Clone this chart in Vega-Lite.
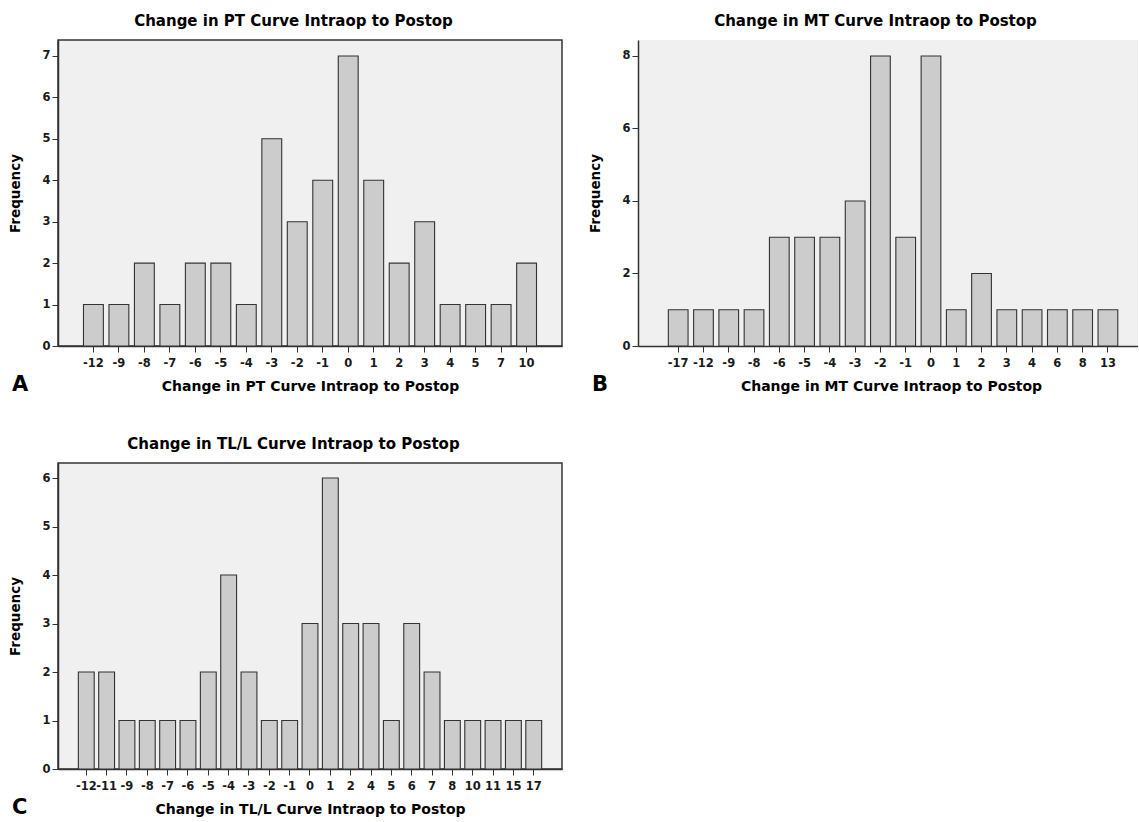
{
  "$schema": "https://vega.github.io/schema/vega-lite/v6.json",
  "padding": {"left": 8, "top": 12, "right": 0, "bottom": 2},
  "background": "white",
  "datasets": {
    "pt": [
      {"change": -12, "n": 1}, {"change": -9, "n": 1}, {"change": -8, "n": 2}, {"change": -7, "n": 1},
      {"change": -6, "n": 2}, {"change": -5, "n": 2}, {"change": -4, "n": 1}, {"change": -3, "n": 5},
      {"change": -2, "n": 3}, {"change": -1, "n": 4}, {"change": 0, "n": 7}, {"change": 1, "n": 4},
      {"change": 2, "n": 2}, {"change": 3, "n": 3}, {"change": 4, "n": 1}, {"change": 5, "n": 1},
      {"change": 7, "n": 1}, {"change": 10, "n": 2}
    ],
    "mt": [
      {"change": -17, "n": 1}, {"change": -12, "n": 1}, {"change": -9, "n": 1}, {"change": -8, "n": 1},
      {"change": -6, "n": 3}, {"change": -5, "n": 3}, {"change": -4, "n": 3}, {"change": -3, "n": 4},
      {"change": -2, "n": 8}, {"change": -1, "n": 3}, {"change": 0, "n": 8}, {"change": 1, "n": 1},
      {"change": 2, "n": 2}, {"change": 3, "n": 1}, {"change": 4, "n": 1}, {"change": 6, "n": 1},
      {"change": 8, "n": 1}, {"change": 13, "n": 1}
    ],
    "tl": [
      {"change": -12, "n": 2}, {"change": -11, "n": 2}, {"change": -9, "n": 1}, {"change": -8, "n": 1},
      {"change": -7, "n": 1}, {"change": -6, "n": 1}, {"change": -5, "n": 2}, {"change": -4, "n": 4},
      {"change": -3, "n": 2}, {"change": -2, "n": 1}, {"change": -1, "n": 1}, {"change": 0, "n": 3},
      {"change": 1, "n": 6}, {"change": 2, "n": 3}, {"change": 4, "n": 3}, {"change": 5, "n": 1},
      {"change": 6, "n": 3}, {"change": 7, "n": 2}, {"change": 8, "n": 1}, {"change": 10, "n": 1},
      {"change": 11, "n": 1}, {"change": 15, "n": 1}, {"change": 17, "n": 1}
    ]
  },
  "columns": 2,
  "bounds": "flush",
  "spacing": {"row": 117, "column": 76},
  "concat": [
    {
      "width": 504,
      "height": 306,
      "data": {"name": "pt"},
      "title": {"text": "A", "orient": "bottom", "anchor": "start", "frame": "bounds", "fontSize": 21, "offset": -20, "dx": 3},
      "encoding": {
        "y": {"field": "n", "type": "quantitative", "scale": {"domain": [0, 7.385], "nice": false}, "axis": {"values": [0, 1, 2, 3, 4, 5, 6, 7], "title": "Frequency"}}
      },
      "layer": [
        {
          "mark": {"type": "bar", "fill": "#cccccc", "stroke": "#333333", "strokeWidth": 1.1},
          "encoding": {
            "x": {"field": "change", "type": "ordinal", "sort": "ascending", "scale": {"paddingInner": 0.22, "paddingOuter": 1.13, "align": 0.5}, "axis": {"title": "Change in PT Curve Intraop to Postop"}}
          }
        },
        {
          "mark": {"type": "bar", "opacity": 0},
          "encoding": {
            "x": {"field": "change", "type": "ordinal", "sort": "ascending", "axis": {"orient": "top", "title": "Change in PT Curve Intraop to Postop", "labels": false, "ticks": false, "domain": false, "titleX": 235, "titlePadding": 12, "titleFontSize": 15}}
          }
        }
      ],
      "resolve": {"axis": {"x": "independent"}}
    },
    {
      "width": 500,
      "height": 306,
      "data": {"name": "mt"},
      "view": {"stroke": null},
      "title": {"text": "B", "orient": "bottom", "anchor": "start", "frame": "bounds", "fontSize": 21, "offset": -20, "dx": 3},
      "encoding": {
        "y": {"field": "n", "type": "quantitative", "scale": {"domain": [0, 8.44], "nice": false}, "axis": {"values": [0, 2, 4, 6, 8], "title": "Frequency"}}
      },
      "layer": [
        {
          "mark": {"type": "bar", "fill": "#cccccc", "stroke": "#333333", "strokeWidth": 1.1},
          "encoding": {
            "x": {"field": "change", "type": "ordinal", "sort": "ascending", "scale": {"paddingInner": 0.22, "paddingOuter": 1.03, "align": 0.6}, "axis": {"title": "Change in MT Curve Intraop to Postop", "titleX": 253}}
          }
        },
        {
          "mark": {"type": "bar", "opacity": 0},
          "encoding": {
            "x": {"field": "change", "type": "ordinal", "sort": "ascending", "axis": {"orient": "top", "title": "Change in MT Curve Intraop to Postop", "labels": false, "ticks": false, "domain": false, "titleX": 237, "titlePadding": 12, "titleFontSize": 15}}
          }
        },
        {
          "data": {"values": [{"edge": "top"}]},
          "mark": {"type": "rule", "color": "#333333", "strokeWidth": 1.5},
          "encoding": {"y": {"datum": 8.44}}
        }
      ],
      "resolve": {"axis": {"x": "independent"}}
    },
    {
      "width": 504,
      "height": 306,
      "data": {"name": "tl"},
      "title": {"text": "C", "orient": "bottom", "anchor": "start", "frame": "bounds", "fontSize": 21, "offset": -20, "dx": 3},
      "encoding": {
        "y": {"field": "n", "type": "quantitative", "scale": {"domain": [0, 6.31], "nice": false}, "axis": {"values": [0, 1, 2, 3, 4, 5, 6], "title": "Frequency"}}
      },
      "layer": [
        {
          "mark": {"type": "bar", "fill": "#cccccc", "stroke": "#333333", "strokeWidth": 1.1},
          "encoding": {
            "x": {"field": "change", "type": "ordinal", "sort": "ascending", "scale": {"paddingInner": 0.22, "paddingOuter": 1.4, "align": 0.5}, "axis": {"title": "Change in TL/L Curve Intraop to Postop"}}
          }
        },
        {
          "mark": {"type": "bar", "opacity": 0},
          "encoding": {
            "x": {"field": "change", "type": "ordinal", "sort": "ascending", "axis": {"orient": "top", "title": "Change in TL/L Curve Intraop to Postop", "labels": false, "ticks": false, "domain": false, "titleX": 235, "titlePadding": 12, "titleFontSize": 15}}
          }
        }
      ],
      "resolve": {"axis": {"x": "independent"}}
    }
  ],
  "config": {
    "font": "DejaVu Sans",
    "view": {"fill": "#f0f0f0", "stroke": "#333333", "strokeWidth": 1.5},
    "title": {"font": "DejaVu Sans", "fontWeight": "bold", "color": "#000000"},
    "axis": {
      "grid": false,
      "domainColor": "#333333",
      "domainWidth": 1.5,
      "tickColor": "#333333",
      "tickWidth": 1,
      "labelFont": "DejaVu Sans",
      "labelFontWeight": "bold",
      "labelFontSize": 11.5,
      "labelColor": "#1a1a1a",
      "titleFont": "DejaVu Sans",
      "titleFontWeight": "bold",
      "titleColor": "#000000"
    },
    "axisX": {"tickSize": 6, "labelPadding": 5, "titlePadding": 11, "titleFontSize": 14, "labelAngle": 0, "labelOverlap": false},
    "axisY": {"tickSize": 6, "labelPadding": 2, "titlePadding": 19, "titleFontSize": 13.5}
  }
}
